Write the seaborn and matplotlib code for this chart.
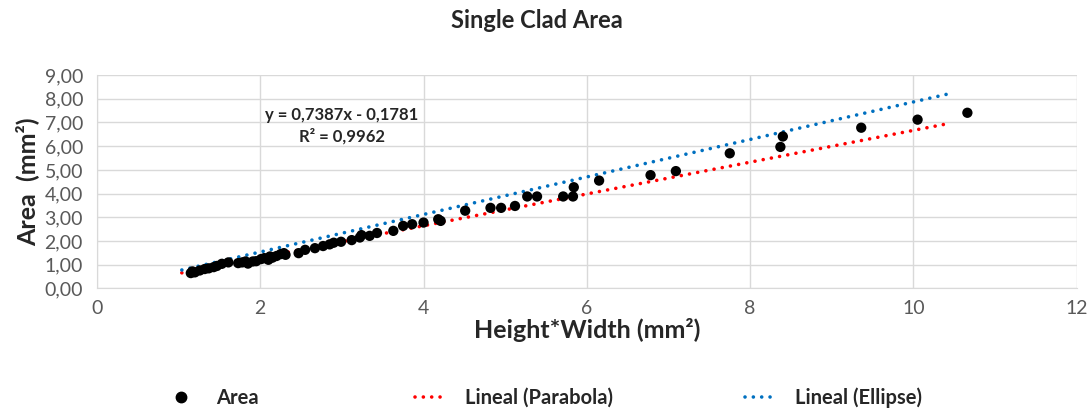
import numpy as np
import pandas as pd
import matplotlib
matplotlib.use("Agg")
import matplotlib.pyplot as plt
import seaborn as sns
from matplotlib.ticker import FuncFormatter
from matplotlib.lines import Line2D

# Datos (Height*Width vs Area, mm2)
hw = [1.15, 1.17, 1.20, 1.26, 1.32, 1.37, 1.43, 1.47, 1.53, 1.61, 1.73, 1.78,
      1.82, 1.85, 1.91, 1.95, 2.01, 2.05, 2.10, 2.12, 2.15, 2.20, 2.25, 2.31,
      2.29, 2.47, 2.55, 2.67, 2.77, 2.85, 2.90, 2.99, 3.12, 3.22, 3.24, 3.34,
      3.43, 3.63, 3.75, 3.86, 4.00, 4.18, 4.21, 4.51, 4.82, 4.95, 5.12, 5.27,
      5.39, 5.71, 5.83, 5.84, 6.15, 6.78, 7.09, 7.75, 8.37, 8.40, 9.36, 10.05,
      10.66]
area = [0.65, 0.72, 0.68, 0.76, 0.82, 0.85, 0.90, 0.95, 1.04, 1.10, 1.07, 1.10,
        1.14, 1.05, 1.14, 1.15, 1.24, 1.28, 1.21, 1.35, 1.30, 1.37, 1.45, 1.42,
        1.49, 1.49, 1.63, 1.70, 1.79, 1.86, 1.93, 1.97, 2.04, 2.15, 2.25, 2.22,
        2.34, 2.43, 2.64, 2.71, 2.78, 2.92, 2.85, 3.28, 3.40, 3.40, 3.48, 3.88,
        3.88, 3.88, 3.88, 4.27, 4.55, 4.78, 4.95, 5.70, 5.97, 6.41, 6.78, 7.12,
        7.41]

# Lineas de tendencia (extremos)
parabola_x = [1.04, 10.42]
parabola_y = [0.66, 6.95]
ellipse_x = [1.04, 10.42]
ellipse_y = [0.78, 8.20]

equation = "y = 0,7387x - 0,1781"
r2_text = "R² = 0,9962"

df = pd.DataFrame({"hw": hw, "area": area})
df_par = pd.DataFrame({"x": parabola_x, "y": parabola_y})
df_ell = pd.DataFrame({"x": ellipse_x, "y": ellipse_y})

sns.set_style("whitegrid")
plt.rcParams["font.family"] = ["Lato", "DejaVu Sans"]

fig = plt.figure(figsize=(10.9, 4.12), dpi=100)
ax = fig.add_axes([0.0889, 0.2998, 0.899, 0.518])

dot = (0, (0.01, 2.3))
sns.lineplot(data=df_par, x="x", y="y", ax=ax, color="#ff0000", lw=2.6,
             linestyle=dot, dash_capstyle="round", legend=False, zorder=2)
sns.lineplot(data=df_ell, x="x", y="y", ax=ax, color="#0070c0", lw=2.6,
             linestyle=dot, dash_capstyle="round", legend=False, zorder=2)
sns.scatterplot(data=df, x="hw", y="area", ax=ax, color="black", s=55,
                edgecolor="none", zorder=3, legend=False)

ax.set_xlim(0, 12)
ax.set_ylim(0, 9)
ax.set_xticks(range(0, 13, 2))
ax.set_yticks(range(0, 10))
ax.yaxis.set_major_formatter(FuncFormatter(lambda v, p: f"{v:.2f}".replace(".", ",")))
ax.tick_params(axis="both", labelsize=14, labelcolor="#595959", length=0)
ax.tick_params(axis="y", pad=10)
ax.tick_params(axis="x", pad=8)
ax.grid(True, color="#d9d9d9", lw=1)
for s in ax.spines.values():
    s.set_visible(False)
ax.spines["bottom"].set_visible(True)
ax.spines["bottom"].set_color("#d9d9d9")
ax.spines["left"].set_visible(True)
ax.spines["left"].set_color("#d9d9d9")

ax.set_xlabel("Height*Width (mm²)", fontsize=18, fontweight="bold", labelpad=1)
ax.set_ylabel("Area  (mm²)", fontsize=18, fontweight="bold", labelpad=4)

ax.text(3.0, 7.32, equation, ha="center", va="center", fontsize=12,
        fontweight="bold", color="#262626")
ax.text(3.0, 6.41, r2_text, ha="center", va="center", fontsize=12,
        fontweight="bold", color="#262626")

fig.text(0.493, 0.95, "Single Clad Area", ha="center", va="center",
         fontsize=17, fontweight="bold", color="#262626")

handles = [
    Line2D([], [], marker="o", color="black", lw=0, markersize=7.5),
    Line2D([], [], color="#ff0000", lw=2.6, linestyle=dot, dash_capstyle="round"),
    Line2D([], [], color="#0070c0", lw=2.6, linestyle=dot, dash_capstyle="round"),
]
labels = ["Area", "Lineal (Parabola)", "Lineal (Ellipse)"]
starts = [0.1523, 0.3807, 0.6835]
for h, lab, x0 in zip(handles, labels, starts):
    fig.legend([h], [lab], loc="center left", bbox_to_anchor=(x0, 0.034),
               frameon=False, borderpad=0, borderaxespad=0, handlelength=1.5,
               handletextpad=1.0, prop={"size": 14.5, "weight": "bold"})

fig.savefig("out.png", dpi=100)
